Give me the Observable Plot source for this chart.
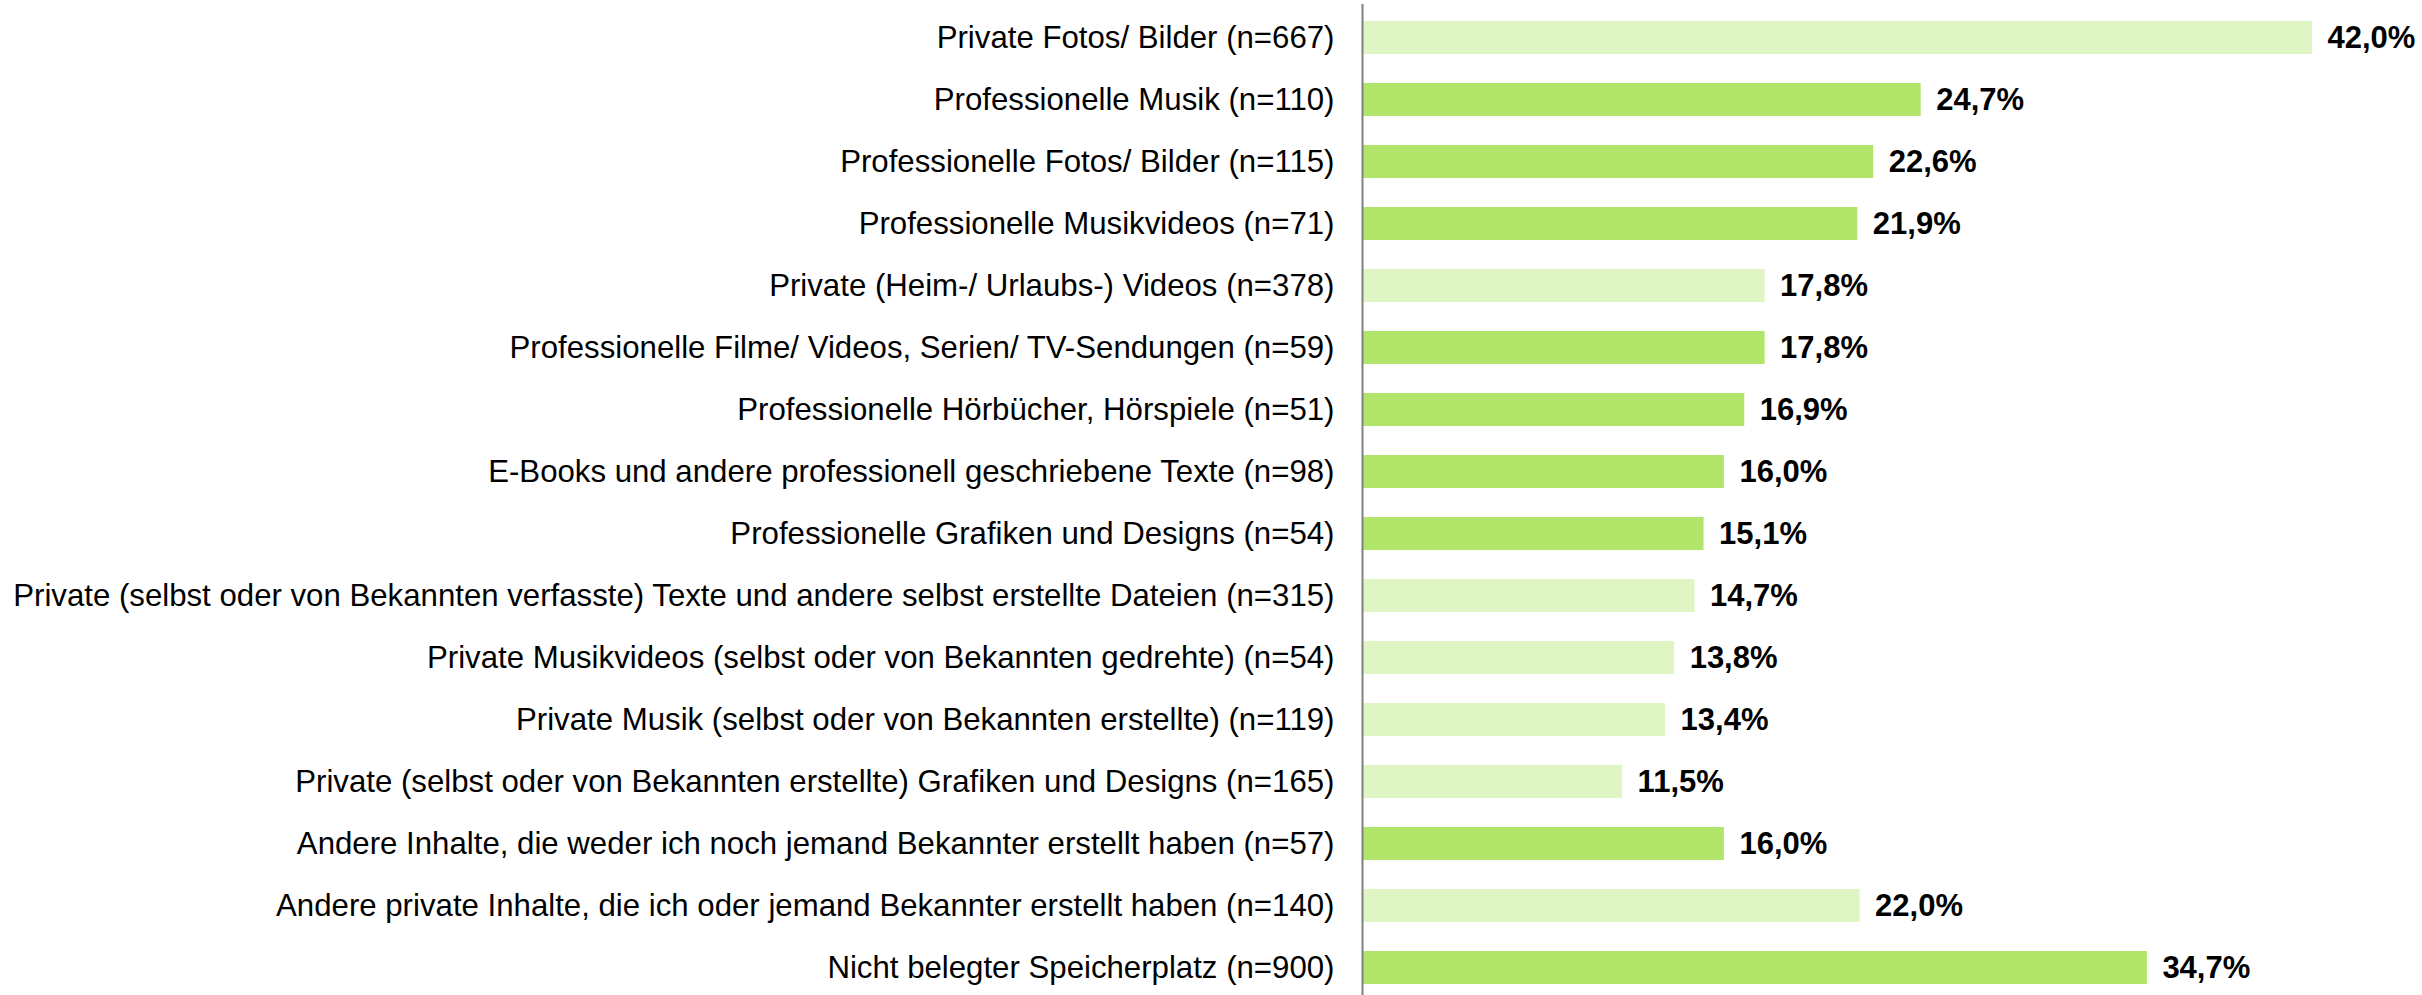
<!DOCTYPE html>
<html>
<head>
<meta charset="utf-8">
<script src="https://cdn.jsdelivr.net/npm/d3@7"></script>
<script src="https://cdn.jsdelivr.net/npm/@observablehq/plot@0.6"></script>
<style>
  html, body { margin: 0; padding: 0; background: #ffffff; }
  #chart svg { display: block; }
</style>
</head>
<body>
<div id="chart"></div>
<script>
const categories = [
  "Private Fotos/ Bilder (n=667)",
  "Professionelle Musik (n=110)",
  "Professionelle Fotos/ Bilder (n=115)",
  "Professionelle Musikvideos (n=71)",
  "Private (Heim-/ Urlaubs-) Videos (n=378)",
  "Professionelle Filme/ Videos, Serien/ TV-Sendungen (n=59)",
  "Professionelle Hörbücher, Hörspiele (n=51)",
  "E-Books und andere professionell geschriebene Texte (n=98)",
  "Professionelle Grafiken und Designs (n=54)",
  "Private (selbst oder von Bekannten verfasste) Texte und andere selbst erstellte Dateien (n=315)",
  "Private Musikvideos (selbst oder von Bekannten gedrehte) (n=54)",
  "Private Musik (selbst oder von Bekannten erstellte) (n=119)",
  "Private (selbst oder von Bekannten erstellte) Grafiken und Designs (n=165)",
  "Andere Inhalte, die weder ich noch jemand Bekannter erstellt haben (n=57)",
  "Andere private Inhalte, die ich oder jemand Bekannter erstellt haben (n=140)",
  "Nicht belegter Speicherplatz (n=900)"
];
const values = [42.0, 24.7, 22.6, 21.9, 17.8, 17.8, 16.9, 16.0, 15.1, 14.7, 13.8, 13.4, 11.5, 16.0, 22.0, 34.7];
const groups = ["privat", "professionell", "professionell", "professionell", "privat", "professionell", "professionell", "professionell", "professionell", "privat", "privat", "privat", "privat", "professionell", "privat", "professionell"];

const data = categories.map((c, i) => ({ category: c, value: values[i], group: groups[i] }));
const fmt = v => v.toFixed(1).replace(".", ",") + "%";

const chart = Plot.plot({
  width: 2422,
  height: 995,
  marginLeft: 1362,
  marginRight: 110,
  marginTop: 4,
  marginBottom: 0,
  style: { fontFamily: "'Liberation Sans', Arial, sans-serif", background: "#ffffff", color: "#000000" },
  x: { domain: [0, 42], axis: null },
  y: { domain: categories, range: [19, 985], paddingInner: 0.47, paddingOuter: 0 },
  color: { domain: ["privat", "professionell"], range: ["#dff5c3", "#b2e66b"] },
  marks: [
    Plot.barX(data, { x: "value", y: "category", fill: "group" }),
    Plot.text(data, {
      x: "value", y: "category", text: d => fmt(d.value),
      dx: 15, textAnchor: "start", fontWeight: "bold", fontSize: 31, fill: "#000000"
    }),
    Plot.ruleX([0], { stroke: "#808080", strokeWidth: 2 }),
    Plot.axisY({ tickSize: 0, tickPadding: 28, fontSize: 31.2, label: null, fill: "#000000" })
  ]
});
document.getElementById("chart").appendChild(chart);
</script>
</body>
</html>
